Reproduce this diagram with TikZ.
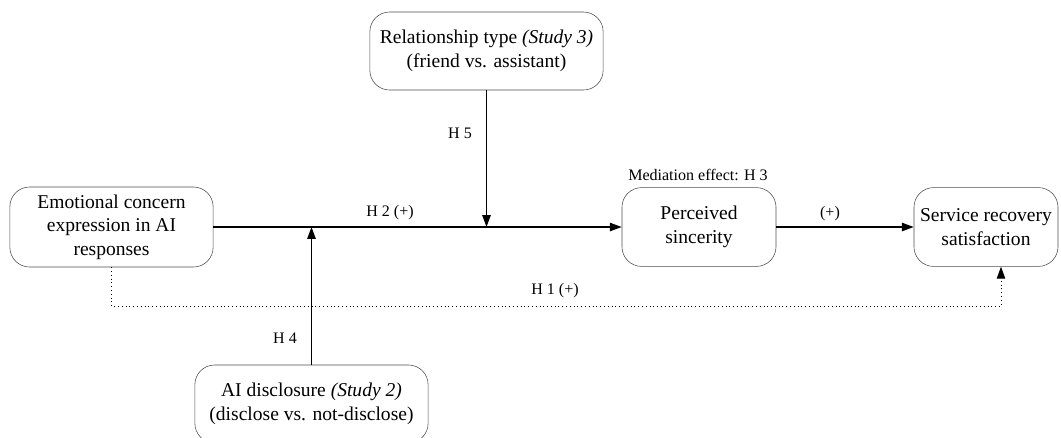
\documentclass[tikz,border=0pt]{standalone}
\usepackage{fontspec}
\setmainfont{Liberation Serif}
\usetikzlibrary{arrows.meta,calc}
\begin{document}
\begin{tikzpicture}[x=0.025cm,y=-0.025cm,
	box/.style={draw=black!70,rounded corners=14pt,align=center,inner sep=0pt,font=\fontsize{13.9}{16.7}\selectfont},
	lbl/.style={font=\fontsize{11.4}{12}\selectfont},
	link/.style={line width=1.1pt,-{Triangle[length=8.5pt,width=6pt]}}]
	\useasboundingbox (0,0) rectangle (1061,437);
	\node[box,minimum width=5.08cm,minimum height=2cm] (emo) at (111.5,227) {Emotional concern\\expression in AI\\responses};
	\node[box,minimum width=3.85cm,minimum height=1.97cm] (per) at (699,227) {Perceived\\sincerity};
	\node[box,minimum width=3.6cm,minimum height=1.97cm] (sat) at (986,227) {Service recovery\\satisfaction};
	\node[box,minimum width=5.83cm,minimum height=1.95cm] (rel) at (486.5,51) {Relationship type \textit{(Study 3)}\\(friend vs. assistant)};
	\node[box,minimum width=5.83cm,minimum height=1.95cm] (dis) at (311.5,404) {AI disclosure \textit{(Study 2)}\\(disclose vs. not-disclose)};
	\draw[link] (emo) -- (per);
	\draw[link] (per) -- (sat);
	\draw[link] (rel.south) -- (rel.south |- per.west);
	\draw[link] (dis.north) -- (dis.north |- emo.east);
	\draw[link,line width=0.7pt,dotted] (emo.south) -- ++(0,39) -| ($(sat.south)+(15,0)$);
	\node[lbl] (medlbl) at (698,175) {Mediation effect: H 3};
	\node[lbl] (h2) at (390,213) {H 2 (+)};
	\node[lbl] (plus) at (830,214) {(+)};
	\node[lbl] (h5) at (460,133) {H 5};
	\node[lbl] (h4) at (285,338) {H 4};
	\node[lbl] (h1) at (555,291) {H 1 (+)};
\end{tikzpicture}
\end{document}
